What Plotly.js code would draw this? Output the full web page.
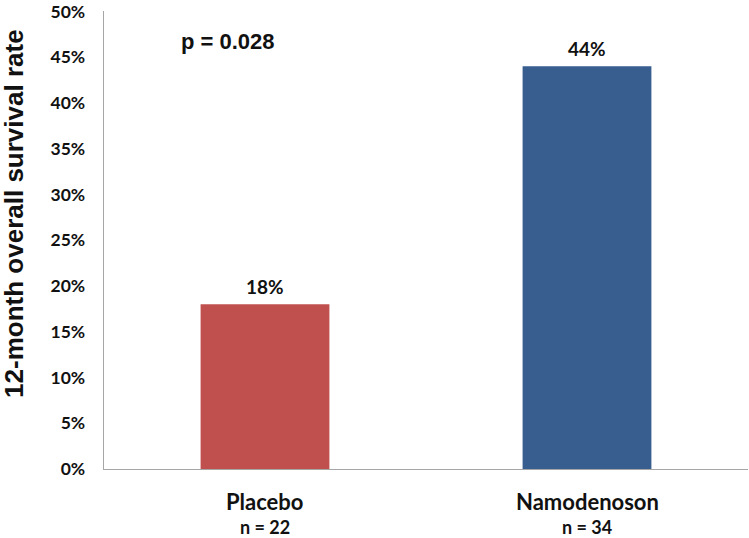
<!DOCTYPE html>
<html>
<head>
<meta charset="utf-8">
<script src="https://cdn.plot.ly/plotly-3.0.1.min.js"></script>
<style>
  html, body { margin: 0; padding: 0; background: #fff; }
  #chart { width: 749px; height: 538px; }
</style>
</head>
<body>
<div id="chart"></div>
<script>
const groups = ['Placebo', 'Namodenoson'];
const sampleSizes = ['n = 22', 'n = 34'];
const survivalRates = [0.18, 0.44];
const barColors = ['#C0504D', '#385D8F'];
const yTickVals = [0, 0.05, 0.10, 0.15, 0.20, 0.25, 0.30, 0.35, 0.40, 0.45, 0.50];
const yTickText = ['0%', '5%', '10%', '15%', '20%', '25%', '30%', '35%', '40%', '45%', '50%'];
const pValueText = 'p = 0.028';
const yTitle = '12-month overall survival rate';

const LABEL_FONT = 'Lato, "Open Sans", sans-serif';
const ARIAL_FONT = '"Liberation Sans", Arial, sans-serif';

const trace = {
    type: 'bar',
    x: groups,
    y: survivalRates,
    marker: { color: barColors },
    hoverinfo: 'none'
};

const annotations = [];
groups.forEach((g, i) => {
    // value label above each bar
    annotations.push({
        x: g, xref: 'x', y: survivalRates[i], yref: 'y', yanchor: 'bottom', yshift: 4,
        text: '<b>' + Math.round(survivalRates[i] * 100) + '%</b>', showarrow: false,
        font: { family: LABEL_FONT, size: 19, color: '#111' }
    });
    // category + sample size under the axis
    annotations.push({
        x: g, xref: 'x', y: 0, yref: 'paper', yanchor: 'middle', yshift: -32,
        text: '<b>' + g + '</b>', showarrow: false,
        font: { family: LABEL_FONT, size: 22, color: '#111' }
    });
    annotations.push({
        x: g, xref: 'x', y: 0, yref: 'paper', yanchor: 'middle', yshift: -58,
        text: '<b>' + sampleSizes[i] + '</b>', showarrow: false,
        font: { family: LABEL_FONT, size: 18, color: '#111' }
    });
});
annotations.push({
    x: 0.193, xref: 'paper', y: 0.933, yref: 'paper',
    xanchor: 'center', yanchor: 'middle',
    text: '<b>' + pValueText + '</b>', showarrow: false,
    font: { family: ARIAL_FONT, size: 22, color: '#111' }
});
annotations.push({
    x: 0, xref: 'paper', xshift: -90, y: 0.557, yref: 'paper',
    xanchor: 'center', yanchor: 'middle', textangle: -90,
    text: '<b>' + yTitle + '</b>', showarrow: false,
    font: { family: ARIAL_FONT, size: 26, color: '#111' }
});

const layout = {
    width: 749, height: 538,
    margin: { l: 104, r: 1, t: 11, b: 69 },
    paper_bgcolor: '#fff', plot_bgcolor: '#fff',
    showlegend: false,
    bargap: 0.6,
    xaxis: {
        showticklabels: false, showgrid: false, zeroline: false,
        showline: true, linecolor: '#A6A6A6', linewidth: 1.3, ticks: ''
    },
    yaxis: {
        range: [0, 0.5005], tickmode: 'array', tickvals: yTickVals, ticktext: yTickText,
        showgrid: false, zeroline: false,
        showline: true, linecolor: '#A6A6A6', linewidth: 1.3, ticks: '',
        ticklabelstandoff: 14, ticklabeloverflow: 'allow',
        tickfont: { family: LABEL_FONT, size: 17.5, color: '#111', weight: 'bold' }
    },
    annotations: annotations
};

Plotly.newPlot('chart', [trace], layout, { displayModeBar: false, staticPlot: true });
</script>
</body>
</html>
